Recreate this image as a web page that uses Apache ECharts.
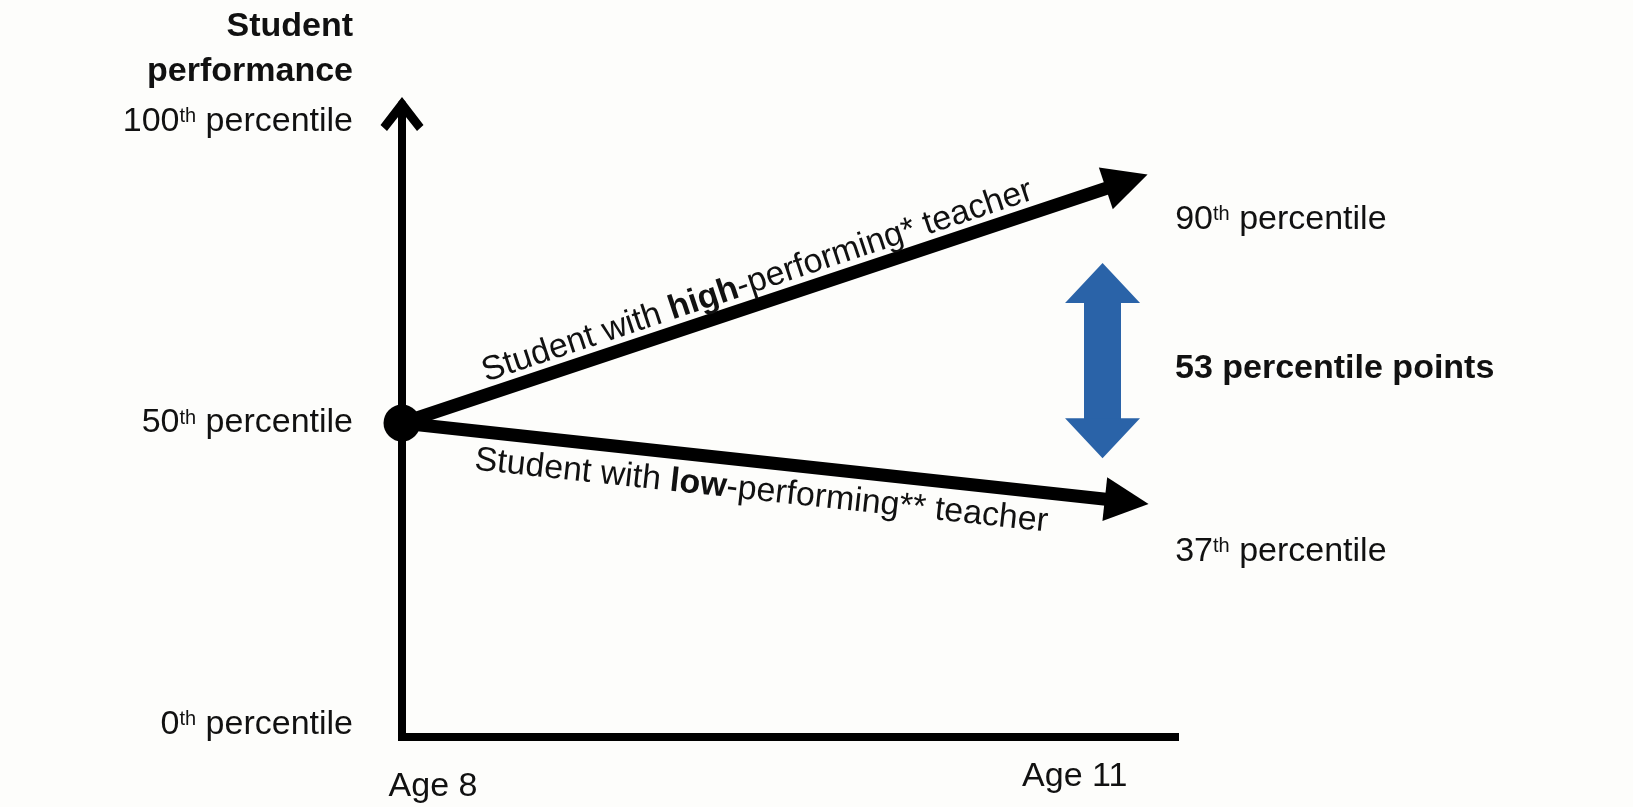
<!DOCTYPE html>
<html>
<head>
<meta charset="utf-8">
<script src="https://cdn.jsdelivr.net/npm/echarts@6/dist/echarts.min.js"></script>
<style>
html,body{margin:0;padding:0;background:#fdfdfb;}
#chart{width:1633px;height:807px;}
</style>
</head>
<body>
<div id="chart"></div>
<script>
// ---- data ----
const ageTicks = [8, 11];
const ageLabels = ['Age 8', 'Age 11'];
const percentileTicks = [0, 50, 100];
const startAge = 8;
const endAge = 11;
const startPercentile = 50;
const teacherLevels = ['high', 'low'];
const teacherMarks = ['*', '**'];
const outcomePercentiles = [90, 37];
const gapPoints = 53;
const axisTitle = 'Student\nperformance';

// ---- styling ----
const FONT = '"Liberation Sans", Arial, Helvetica, sans-serif';
const TXT = '#111111';
const BLUE = '#2a63a8';
const pctRich = {
  n: { fontSize: 34, color: TXT, fontFamily: FONT },
  s: { fontSize: 20, color: TXT, fontFamily: FONT, padding: [0, 0, 10, 0] }
};
const pctText = v => `{n|${v}}{s|th}{n| percentile}`;

const gapX = endAge - 0.1;
const gapTop = outcomePercentiles[0] - 16.8;
const gapBottom = outcomePercentiles[1] + 10.5;

const chart = echarts.init(document.getElementById('chart'), null, { renderer: 'canvas' });
const option = {
  backgroundColor: '#fdfdfb',
  animation: false,
  textStyle: { fontFamily: FONT },
  grid: { left: 402, right: 458, top: 104, bottom: 70, containLabel: false, outerBoundsMode: 'none' },
  xAxis: {
    type: 'value', min: 8, max: 11.2,
    axisLine: { show: true, onZero: false, lineStyle: { color: '#000', width: 8, cap: 'square' } },
    axisTick: { show: false },
    splitLine: { show: false },
    axisLabel: {
      customValues: ageTicks,
      margin: 23,
      formatter: v => {
        const i = ageTicks.indexOf(v);
        return i === 0 ? `{first|${ageLabels[0]}}` : `{last|${ageLabels[i]}}`;
      },
      rich: {
        first: { fontSize: 34, color: TXT, fontFamily: FONT, padding: [10, 0, 0, 62] },
        last: { fontSize: 34, color: TXT, fontFamily: FONT, padding: [0, 104, 0, 0] }
      }
    }
  },
  yAxis: {
    type: 'value', min: -2, max: 102.84,
    name: axisTitle,
    nameLocation: 'end',
    nameGap: 10,
    nameTextStyle: {
      fontSize: 34, fontWeight: 'bold', color: TXT, fontFamily: FONT,
      align: 'right', verticalAlign: 'bottom', lineHeight: 45, padding: [0, 49, 0, 0]
    },
    axisLine: {
      show: true,
      symbol: ['none', 'path://M21.5 0L43 28L36.5 34L21.5 15L6.5 34L0 28Z'],
      symbolSize: [43, 34],
      symbolOffset: [0, -10],
      lineStyle: { color: '#000', width: 8 }
    },
    axisTick: { show: false },
    splitLine: { show: false },
    axisLabel: {
      customValues: percentileTicks,
      margin: 49,
      formatter: v => pctText(v),
      rich: pctRich
    }
  },
  series: [
    {
      type: 'lines',
      name: 'trajectories',
      coordinateSystem: 'cartesian2d',
      clip: false,
      z: 3,
      symbol: ['none', 'triangle'],
      symbolSize: [1, 44],
      lineStyle: { color: '#000', width: 13, opacity: 1, curveness: 0 },
      data: outcomePercentiles.map((p, i) => ({
        coords: [[startAge, startPercentile], [endAge, p]],
        label: {
          show: true,
          position: i === 0 ? 'insideMiddleTop' : 'insideMiddleBottom',
          distance: i === 0 ? 5 : 12,
          formatter: `{r|Student with }{b|${teacherLevels[i]}}{r|-performing${teacherMarks[i]} teacher}`,
          rich: {
            r: { fontSize: 34, color: TXT, fontFamily: FONT },
            b: { fontSize: 34, color: TXT, fontFamily: FONT, fontWeight: 'bold' }
          }
        }
      }))
    },
    {
      type: 'scatter',
      name: 'start',
      clip: false,
      z: 4,
      symbol: 'circle',
      symbolSize: 37,
      itemStyle: { color: '#000', opacity: 1 },
      data: [[startAge, startPercentile]]
    },
    {
      type: 'scatter',
      name: 'outcomes',
      clip: false,
      z: 5,
      symbolSize: 1,
      itemStyle: { color: 'transparent', opacity: 1 },
      label: {
        show: true, position: 'right', distance: 48,
        formatter: p => pctText(p.value[1]),
        rich: pctRich
      },
      data: outcomePercentiles.map((p, i) => ({
        value: [endAge, p],
        label: { offset: [0, i === 0 ? 38 : 50] }
      }))
    },
    {
      type: 'lines',
      name: 'gap',
      coordinateSystem: 'cartesian2d',
      clip: false,
      z: 3,
      symbol: ['triangle', 'triangle'],
      symbolSize: [[75, 40], [75, 40]],
      lineStyle: { color: BLUE, width: 37, opacity: 1, curveness: 0 },
      data: [{ coords: [[gapX, gapBottom], [gapX, gapTop]] }]
    },
    {
      type: 'scatter',
      name: 'gapLabel',
      clip: false,
      z: 5,
      symbolSize: 1,
      itemStyle: { color: 'transparent', opacity: 1 },
      label: {
        show: true, position: 'right', distance: 72, offset: [0, 8],
        formatter: `${gapPoints} percentile points`,
        fontSize: 34, fontWeight: 'bold', color: TXT, fontFamily: FONT
      },
      data: [[gapX, (gapTop + gapBottom) / 2]]
    }
  ]
};
chart.setOption(option);
</script>
</body>
</html>
